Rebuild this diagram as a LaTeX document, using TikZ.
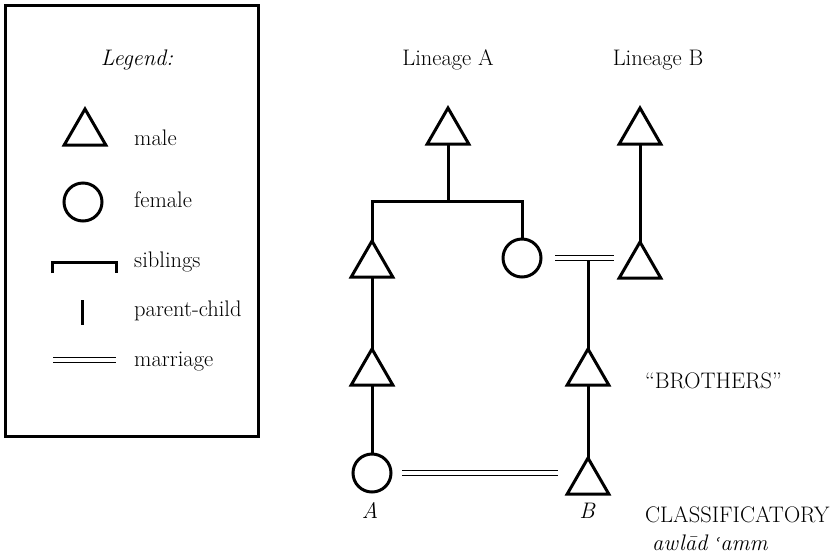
\documentclass[tikz,border=0pt]{standalone}
\usepackage{fontspec}
\newfontfamily\djv{DejaVu Serif}
\usetikzlibrary{shapes.geometric}
\newcommand\lblsize{\fontsize{22.5}{27}\selectfont}
\tikzset{
  ln/.style={line width=3pt},
  male/.style={draw, line width=3pt, regular polygon, regular polygon sides=3, minimum size=48pt, inner sep=0pt, outer sep=0pt},
  female/.style={draw, line width=3pt, circle, minimum size=38pt, inner sep=0pt, outer sep=0pt},
  marr/.style={double, line width=1.4pt, double distance=3.8pt},
  lbl/.style={font=\lblsize, inner sep=0pt},
  ilbl/.style={font=\lblsize\itshape, inner sep=0pt},
}
\begin{document}
\begin{tikzpicture}[x=1pt,y=-1pt]
\useasboundingbox (0,0) rectangle (837,555);
% legend
\draw[line width=3pt] (5,5) rectangle (258,436);
\node[ilbl] (leg) at (137,60) {Legend:};
\node[male] (lm) at (85,133) {};
\node[lbl, anchor=base west] (lmt) at (134,145) {male};
\node[female] (lf) at (83,202) {};
\node[lbl, anchor=base west] (lft) at (134,207) {female};
\draw[ln] (52,273) -- (52,262) -- (116,262) -- (116,273);
\node[lbl, anchor=base west] (lst) at (134,267) {siblings};
\draw[ln] (82,300) -- (82,325);
\node[lbl, anchor=base west] (lpt) at (134,316) {parent-child};
\draw[marr] (53,360) -- (116,360);
\node[lbl, anchor=base west] (lmrt) at (134,366) {marriage};
% titles
\node[lbl, anchor=base] (tA) at (448,65) {Lineage A};
\node[lbl, anchor=base] (tB) at (658,65) {Lineage B};
% nodes
\node[male] (a1) at (448,132) {};
\node[male] (b1) at (640,132) {};
\node[male] (a2) at (372,265) {};
\node[female] (a2s) at (522,258) {};
\node[male] (b2) at (640,266) {};
\node[male] (a3) at (372,373) {};
\node[male] (b3) at (588,373) {};
\node[female] (a4) at (372,473) {};
\node[male] (b4) at (588,482) {};
\coordinate (bar) at (448,201);
\coordinate (mB) at (588,261);
% connectors
\draw[ln] (a1.south) -- (bar);
\draw[ln] (a2.north) -- (a2.north |- bar) -- (a2s.north |- bar) -- (a2s.north);
\draw[ln] (b1.south) -- (b2.north);
\draw[marr, shorten <=14pt] (a2s.east) -- (a2s.east -| mB) -- ++(26,0);
\draw[ln] (mB) -- (b3.north);
\draw[ln] (a2.south) -- (a3.north);
\draw[ln] (a3.south) -- (a4.north);
\draw[ln] (b3.south) -- (b4.north);
\draw[marr, shorten <=11pt, shorten >=30pt] (a4.east) -- (a4.east -| b4);
% labels
\node[ilbl, anchor=base] (la) at (370,518) {A};
\node[ilbl, anchor=base] (lb) at (587,518) {B};
\node[lbl, anchor=base west] (bro) at (645,388) {“BROTHERS”};
\node[lbl, anchor=base west] (cls) at (645,522) {CLASSIFICATORY};
\node[ilbl, anchor=base west] (aw) at (652,550) {awlād {\djv\fontsize{17}{20}\selectfont ʿ}amm};
\end{tikzpicture}
\end{document}
